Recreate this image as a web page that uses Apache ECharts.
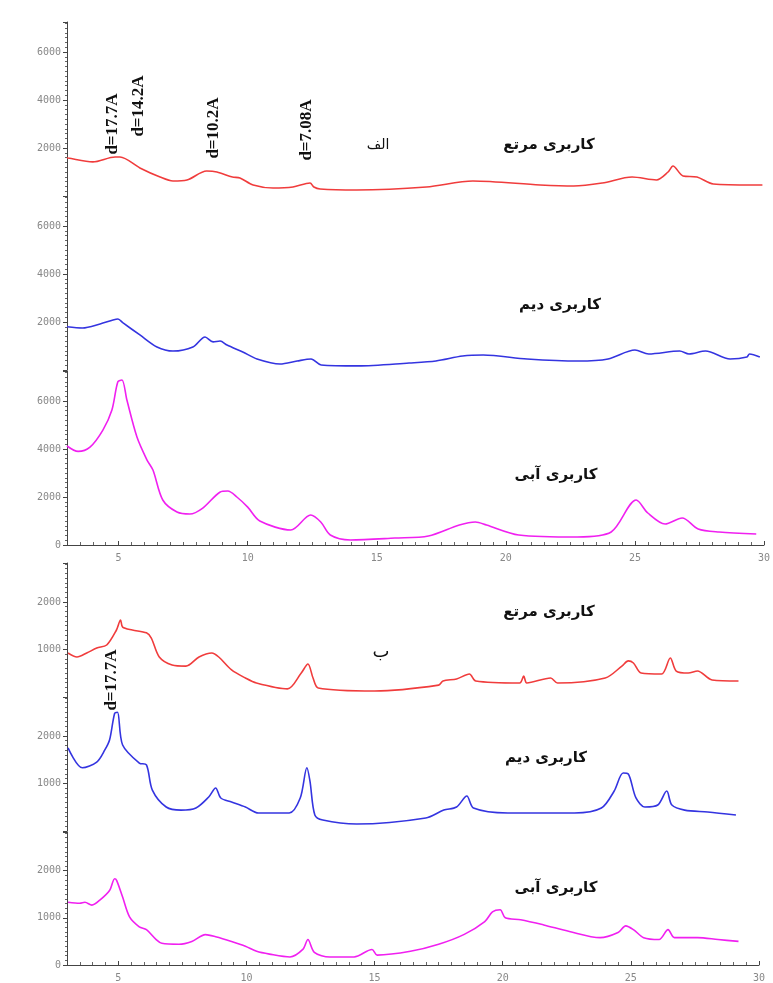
<!DOCTYPE html>
<html>
<head>
<meta charset="utf-8">
<script src="https://cdn.jsdelivr.net/npm/echarts@6/dist/echarts.min.js"></script>
<style>
  html, body { margin: 0; padding: 0; background: #fff; }
  #chart { width: 773px; height: 983px; }
</style>
</head>
<body>
<div id="chart"></div>
<script>
// 2theta, counts  (panel الف)
const redA = [[3.0,1590],[3.04,1583],[4.0,1420],[4.86,1625],[5.05,1625],[5.82,1170],[6.6,790],[7.1,625],[7.64,667],[8.4,1040],[8.8,1000],[9.4,790],[9.69,750],[10.2,460],[10.97,333],[11.74,375],[12.4,540],[12.55,375],[12.79,290],[14.2,250],[16.9,375],[18.7,625],[21.3,460],[22.6,415],[23.7,540],[24.86,790],[25.8,667],[26.25,1000],[26.44,1250],[26.83,833],[27.37,790],[28.0,500],[29.5,460],[29.9,460]];
const blueA = [[3.0,1800],[3.6,1750],[4.28,1917],[4.78,2083],[4.97,2125],[5.17,1960],[5.82,1460],[6.48,960],[7.1,790],[7.87,960],[8.34,1375],[8.65,1170],[8.92,1210],[9.19,1040],[9.8,750],[10.35,460],[11.24,250],[11.9,375],[12.44,460],[12.83,210],[14.26,170],[16.23,290],[17.27,375],[18.3,580],[19.1,625],[20.8,460],[22.77,375],[23.93,460],[24.97,833],[25.5,667],[26.7,790],[27.06,667],[27.7,790],[28.65,460],[29.3,540],[29.4,667],[29.8,540]];
const pinkA = [[3.0,4125],[3.43,3900],[3.89,4080],[4.39,4790],[4.74,5625],[4.97,6800],[5.13,6875],[5.32,6040],[5.71,4500],[6.1,3540],[6.33,3125],[6.71,1875],[7.26,1375],[7.76,1290],[8.26,1540],[8.92,2200],[9.23,2250],[9.58,2000],[10.0,1580],[10.47,1000],[11.67,625],[12.44,1250],[12.83,960],[13.2,417],[13.98,210],[15.7,290],[17.0,375],[18.2,833],[18.82,960],[19.25,833],[20.5,417],[22.77,333],[24.08,540],[25.05,1875],[25.5,1333],[26.17,875],[26.83,1125],[27.45,667],[28.26,540],[29.7,460]];

// panel ب
const redB = [[3.04,926],[3.39,842],[3.77,926],[4.16,1030],[4.55,1095],[4.93,1410],[5.09,1620],[5.17,1470],[5.55,1410],[6.1,1350],[6.29,1240],[6.6,842],[7.1,674],[7.64,650],[8.15,842],[8.65,926],[8.92,842],[9.42,570],[9.96,400],[10.39,295],[11.6,170],[12.14,505],[12.4,695],[12.6,400],[12.8,190],[15.0,126],[17.5,250],[17.67,337],[18.2,380],[18.7,484],[18.95,337],[20.66,295],[20.82,440],[20.94,295],[21.87,400],[22.14,295],[24.0,400],[24.65,650],[24.9,760],[25.1,716],[25.4,505],[26.2,484],[26.54,820],[26.77,547],[27.24,505],[27.6,547],[28.17,358],[29.2,337]];
const blueB = [[3.04,1750],[3.6,1330],[4.16,1450],[4.47,1700],[4.66,1915],[4.86,2480],[4.97,2500],[5.17,1810],[5.82,1430],[6.1,1390],[6.33,860],[6.87,505],[7.45,440],[8.03,484],[8.53,716],[8.8,905],[9.0,695],[9.42,610],[9.96,505],[10.47,380],[11.67,380],[12.1,695],[12.36,1330],[12.48,1050],[12.67,337],[12.98,230],[14.3,147],[17.0,274],[17.7,440],[18.2,505],[18.6,737],[18.86,484],[20.2,380],[22.8,380],[23.85,484],[24.35,842],[24.7,1220],[24.9,1200],[25.2,695],[25.55,505],[26.05,547],[26.4,842],[26.6,547],[27.1,440],[28.0,400],[29.1,337]];
const pinkB = [[3.04,1330],[3.5,1310],[3.7,1330],[3.97,1270],[4.28,1375],[4.66,1580],[4.86,1830],[4.94,1790],[5.17,1440],[5.44,1020],[5.82,810],[6.1,750],[6.48,540],[6.7,460],[7.37,440],[7.87,500],[8.4,645],[8.8,600],[9.42,500],[9.96,400],[10.4,290],[10.9,230],[11.7,170],[12.2,330],[12.4,540],[12.65,270],[13.25,170],[14.2,170],[14.9,330],[15.1,210],[16.4,290],[17.5,440],[18.5,650],[19.3,920],[19.6,1125],[19.9,1170],[20.1,1000],[20.7,960],[21.6,850],[22.6,710],[23.8,580],[24.5,690],[24.8,830],[25.1,750],[25.5,580],[26.1,540],[26.45,750],[26.7,580],[27.6,580],[28.4,540],[29.2,500]];

const traces = [redA, blueA, pinkA, redB, blueB, pinkB];
const colors = ['#f03c3c', '#3434e0', '#f020f0', '#f03c3c', '#3434e0', '#f020f0'];
const gridTops = [22, 196, 371, 563, 697, 832];
const gridHeights = [174, 174, 174, 134, 134, 134];
const yMax = [7250, 7250, 7250, 2820, 2820, 2820];
const yStep = [2000, 2000, 2000, 1000, 1000, 1000];

const chart = echarts.init(document.getElementById('chart'));

const grid = [], xAxis = [], yAxis = [], series = [];
for (let i = 0; i < 6; i++) {
    const bottomOfPanel = (i === 2 || i === 5);
    grid.push({ left: 67, right: i < 3 ? 8 : 14, top: gridTops[i], height: gridHeights[i] });
    xAxis.push({
        gridIndex: i, type: 'value', min: 3, max: 30, splitNumber: 5,
        axisLine: { show: bottomOfPanel, lineStyle: { color: '#444' } },
        axisTick: { show: bottomOfPanel, inside: true, length: 4, lineStyle: { color: '#444' } },
        minorTick: { show: bottomOfPanel, splitNumber: 10, length: 3, lineStyle: { color: '#666' } },
        axisLabel: {
            show: bottomOfPanel, showMinLabel: false, color: '#888', fontSize: 10,
            fontFamily: 'DejaVu Sans Mono', margin: 8,
            formatter: v => (v % 5 === 0 ? String(v) : '')
        },
        splitLine: { show: false }
    });
    yAxis.push({
        gridIndex: i, type: 'value', min: 0, max: yMax[i], interval: yStep[i],
        axisLine: { show: true, lineStyle: { color: '#444' } },
        axisTick: { show: true, length: 4, lineStyle: { color: '#444' } },
        minorTick: { show: true, splitNumber: 10, length: 2, lineStyle: { color: '#666' } },
        axisLabel: {
            color: '#888', fontSize: 10, fontFamily: 'DejaVu Sans Mono', margin: 6,
            showMinLabel: bottomOfPanel, showMaxLabel: false,
            formatter: v => (v % yStep[i] === 0 ? String(v) : '')
        },
        splitLine: { show: false }
    });
    series.push({
        type: 'line', xAxisIndex: i, yAxisIndex: i, data: traces[i],
        showSymbol: false, smooth: 0.3,
        lineStyle: { color: colors[i], width: 1.6 }
    });
}

const dFont = 'bold 17px "Liberation Serif"';
const faFont = 'bold 15px "DejaVu Sans"';
function vtext(x, y, t) {
    return { type: 'text', x: x, y: y, rotation: Math.PI / 2,
        style: { text: t, font: dFont, fill: '#111', textAlign: 'center', textVerticalAlign: 'middle', align: 'center', verticalAlign: 'middle' } };
}
function htext(x, y, t, font) {
    return { type: 'text', x: x, y: y,
        style: { text: t, font: font || faFont, fill: '#111', textAlign: 'center', textVerticalAlign: 'middle', align: 'center', verticalAlign: 'middle' } };
}

chart.setOption({
    animation: false,
    grid: grid,
    xAxis: xAxis,
    yAxis: yAxis,
    series: series,
    graphic: [
        vtext(113, 124, 'd=17.7A'),
        vtext(139, 106, 'd=14.2A'),
        vtext(214, 128, 'd=10.2A'),
        vtext(307, 130, 'd=7.08A'),
        htext(378, 145, 'الف', '14px "DejaVu Sans"'),
        htext(549, 145, 'کاربری مرتع'),
        htext(560, 305, 'کاربری دیم'),
        htext(556, 475, 'کاربری آبی'),
        htext(549, 612, 'کاربری مرتع'),
        htext(381, 652, 'ب', '18px "DejaVu Sans"'),
        vtext(112, 680, 'd=17.7A'),
        htext(546, 758, 'کاربری دیم'),
        htext(556, 888, 'کاربری آبی')
    ]
});
</script>
</body>
</html>
